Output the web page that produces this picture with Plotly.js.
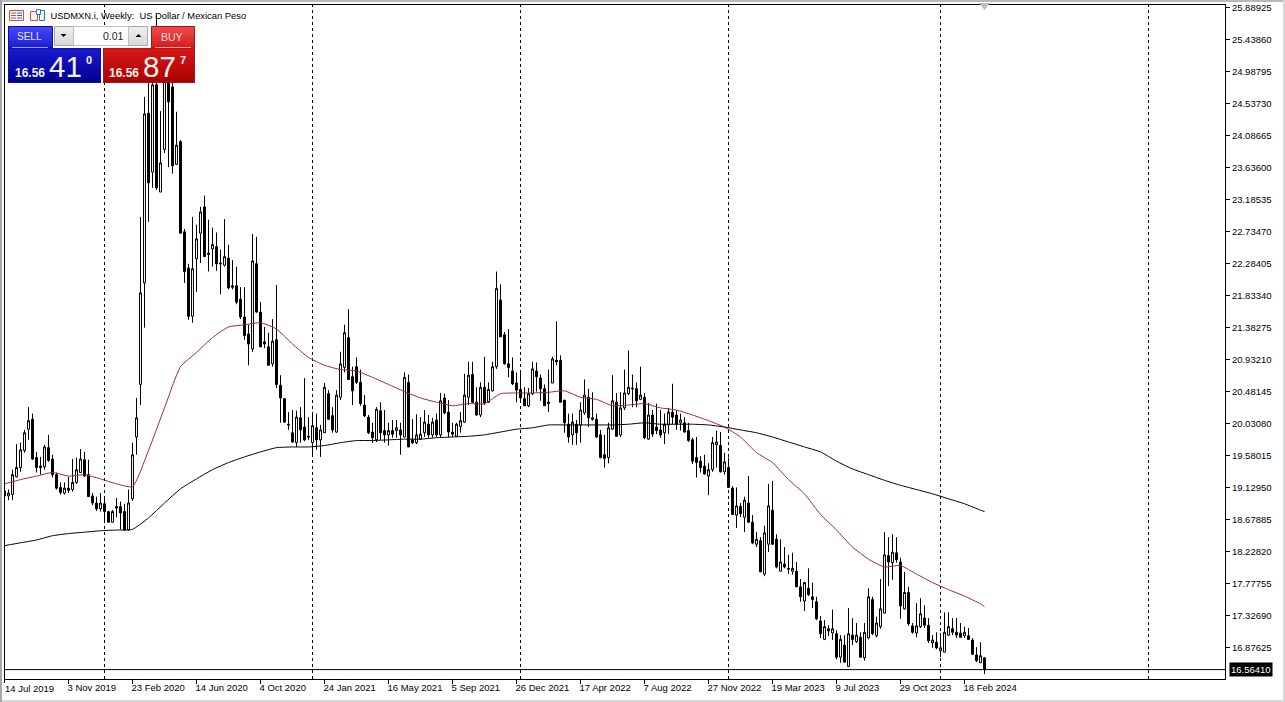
<!DOCTYPE html>
<html><head><meta charset="utf-8">
<script src="https://cdn.plot.ly/plotly-3.0.1.min.js"></script>
<style>html,body{margin:0;padding:0;background:#fff;overflow:hidden}#chart{width:1285px;height:702px}</style>
</head><body><div id="chart"></div>
<script>
const firstWeek = "2019-07-14";
const opens = [19.01,19.01,19.03,19.28,19.41,19.65,19.95,20.09,19.55,19.43,
19.42,19.69,19.53,19.31,19.13,19.05,19.12,19.10,19.20,19.34,
19.52,19.31,19.01,18.91,18.83,18.90,18.79,18.64,18.86,18.86,
18.79,18.53,18.97,19.84,20.58,22.01,24.40,23.57,24.80,23.29,
23.89,25.15,24.77,23.68,24.00,22.73,22.22,21.54,22.35,22.71,
23.08,22.41,22.49,22.52,22.29,22.26,22.36,21.97,21.97,21.78,
21.53,21.29,21.08,22.28,21.60,21.18,21.11,20.87,21.21,20.57,
20.38,20.02,19.90,19.76,20.11,19.98,19.85,19.76,19.97,19.80,
19.90,20.45,20.14,19.91,20.40,20.82,21.24,20.69,20.83,20.61,
20.29,20.12,19.91,19.80,20.21,19.93,19.87,19.93,19.93,19.94,
19.84,20.61,19.80,19.76,19.81,19.90,20.02,19.87,20.08,19.87,
20.39,20.19,19.91,19.85,19.99,20.05,20.40,20.72,20.33,20.15,
20.54,20.33,20.49,20.83,21.77,21.28,20.87,20.77,20.60,20.51,
20.38,20.28,20.45,20.77,20.67,20.52,20.31,20.60,20.92,20.92,
20.36,20.02,19.87,20.02,20.01,20.18,20.40,20.11,20.09,19.87,
19.59,19.55,19.95,20.33,19.87,20.25,20.45,20.53,20.52,20.37,
20.40,19.81,20.15,19.98,19.94,19.90,20.01,20.19,20.15,20.04,
20.04,19.93,19.80,19.55,19.50,19.43,19.29,19.38,19.73,19.72,
19.35,19.41,19.12,18.74,18.86,18.71,18.91,18.64,18.33,18.38,
17.91,18.33,18.81,18.40,17.95,18.05,17.99,17.95,17.95,17.73,
17.53,17.71,17.59,17.52,17.25,16.99,17.14,17.08,17.07,16.74,
16.91,16.61,17.05,16.96,17.02,16.73,17.01,17.55,17.04,17.17,
17.36,18.17,18.07,18.21,18.08,17.42,17.65,17.18,17.08,17.17,
17.29,17.19,16.94,16.95,16.83,16.81,17.05,17.14,17.09,17.08,
17.04,17.04,16.98,16.77,16.66,16.73];
const highs = [19.16,19.10,19.38,19.74,19.76,19.94,20.26,20.17,19.63,19.56,
19.73,19.87,19.59,19.34,19.20,19.20,19.28,19.53,19.55,19.67,
19.63,19.52,19.05,19.00,19.05,19.00,18.80,18.81,18.98,18.93,
18.90,19.10,19.76,20.39,22.94,24.63,25.15,25.15,25.78,24.43,
25.22,25.29,24.94,24.42,24.02,22.77,22.28,22.94,22.83,23.08,
23.24,22.90,22.79,22.72,22.48,22.91,22.55,22.33,22.24,21.95,
21.95,21.42,22.70,22.66,21.74,21.39,21.31,21.50,21.98,20.71,
20.39,20.19,20.22,20.21,20.26,20.67,20.12,20.17,20.17,20.01,
20.60,20.50,20.26,20.50,21.04,21.42,21.64,20.83,20.96,20.79,
20.43,20.15,20.04,20.26,20.33,20.22,20.04,20.08,20.08,20.04,
20.75,20.72,20.09,20.16,20.12,20.22,20.15,20.11,20.17,20.46,
20.45,20.36,20.04,20.04,20.19,20.73,20.90,20.90,20.54,20.61,
20.97,20.61,20.90,22.17,21.99,21.32,21.36,20.96,20.75,20.76,
20.54,20.53,20.90,20.89,20.72,20.58,20.79,20.97,21.47,20.99,
20.36,20.17,20.17,20.08,20.33,20.65,20.52,20.47,20.17,19.94,
19.87,20.04,20.71,20.46,20.47,20.79,21.06,20.72,20.61,20.83,
20.46,20.32,20.22,20.31,20.22,20.17,20.25,20.59,20.22,20.17,
20.12,20.04,19.83,19.84,19.57,19.59,19.47,19.84,19.93,19.91,
19.62,19.55,19.15,19.13,18.91,19.00,19.29,18.74,18.50,18.43,
18.59,19.18,19.22,18.47,18.40,18.29,18.18,18.21,18.08,17.84,
17.80,17.99,17.79,17.59,17.32,17.26,17.19,17.41,17.12,17.05,
17.05,17.43,17.29,17.22,17.09,17.22,17.71,17.59,17.31,17.84,
18.50,18.43,18.47,18.43,18.14,17.94,17.73,17.22,17.50,17.57,
17.47,17.29,17.05,17.09,17.08,17.37,17.37,17.29,17.29,17.22,
17.17,17.15,17.01,16.88,16.95,16.74];
const lows = [19.00,18.95,18.95,19.27,19.35,19.62,19.80,19.52,19.34,19.31,
19.38,19.49,19.27,19.10,19.03,19.03,19.05,19.07,19.18,19.34,
19.28,19.00,18.88,18.80,18.79,18.64,18.64,18.64,18.71,18.54,
18.52,18.52,18.94,19.59,20.29,21.38,22.87,23.35,23.32,23.29,
23.84,23.64,23.55,23.67,22.71,22.01,21.49,21.45,21.88,22.29,
22.38,22.17,22.24,22.18,21.85,22.24,21.92,21.92,21.71,21.50,
21.21,20.85,21.04,21.59,21.11,21.09,20.85,20.83,20.53,20.04,
20.04,19.94,19.76,19.70,19.76,19.78,19.80,19.56,19.66,19.56,
19.90,20.08,19.90,19.90,20.36,20.75,20.65,20.29,20.59,20.28,
20.12,19.88,19.76,19.77,19.80,19.76,19.72,19.83,19.83,19.59,
19.83,19.70,19.74,19.74,19.80,19.84,19.83,19.83,19.84,19.84,
20.16,19.84,19.84,19.84,19.90,20.04,20.29,20.32,20.14,20.12,
20.29,20.32,20.48,20.80,21.25,20.86,20.68,20.57,20.33,20.33,
20.28,20.26,20.43,20.48,20.35,20.28,20.19,20.60,20.85,20.33,
19.90,19.76,19.73,19.73,19.76,20.15,19.98,20.07,19.83,19.54,
19.41,19.47,19.94,19.84,19.84,20.22,20.43,20.26,20.26,20.36,
19.81,19.80,19.84,19.88,19.83,19.74,19.88,20.02,19.94,19.93,
19.90,19.77,19.46,19.27,19.34,19.31,19.02,19.35,19.41,19.34,
19.31,19.13,18.74,18.56,18.71,18.50,18.63,18.33,18.29,17.94,
17.88,18.22,18.32,17.99,17.95,17.99,17.91,17.90,17.73,17.52,
17.39,17.60,17.43,17.26,17.01,16.98,17.04,16.98,16.71,16.66,
16.66,16.60,16.91,16.94,16.73,16.69,16.99,17.05,17.02,17.14,
17.36,17.74,17.83,18.07,17.28,17.41,17.18,17.07,17.02,17.15,
17.15,16.94,16.87,16.85,16.74,16.81,17.04,17.05,17.01,17.02,
17.01,16.99,16.77,16.67,16.66,16.50];
const closes = [19.08,19.05,19.31,19.41,19.66,19.90,20.07,19.53,19.41,19.41,
19.70,19.51,19.31,19.12,19.06,19.12,19.09,19.20,19.38,19.53,
19.29,19.00,18.91,18.83,18.91,18.79,18.64,18.79,18.84,18.77,
18.53,18.91,19.59,20.11,21.87,24.39,23.42,24.80,23.35,23.70,
25.01,24.56,23.66,23.95,22.71,22.17,21.54,22.21,22.63,23.01,
22.38,22.43,22.55,22.28,22.28,22.38,21.94,21.95,21.74,21.53,
21.27,21.15,22.32,21.60,21.11,21.15,20.85,21.19,20.58,20.39,
20.05,20.01,19.77,20.12,19.94,19.80,19.84,20.00,19.80,19.94,
20.54,20.09,19.94,20.43,20.87,21.31,20.65,20.49,20.61,20.31,
20.14,19.90,19.83,20.23,19.90,19.87,19.93,19.88,19.97,19.87,
20.68,19.70,19.76,19.87,19.88,20.05,19.87,20.05,19.87,20.35,
20.18,19.91,19.88,20.02,20.07,20.43,20.71,20.33,20.15,20.54,
20.32,20.51,20.83,21.93,21.25,20.87,20.82,20.59,20.50,20.39,
20.28,20.45,20.80,20.69,20.52,20.28,20.33,20.94,20.90,20.33,
20.04,19.84,20.05,19.90,20.22,20.43,20.11,20.09,19.84,19.55,
19.54,19.97,20.35,19.85,20.25,20.46,20.54,20.52,20.35,20.43,
19.83,20.15,19.88,19.93,19.87,20.02,20.19,20.12,20.02,20.08,
19.91,19.79,19.50,19.48,19.41,19.32,19.38,19.76,19.77,19.35,
19.49,19.13,18.75,18.87,18.76,18.95,18.64,18.35,18.40,17.94,
18.49,18.87,18.33,18.01,18.08,18.01,17.98,17.99,17.73,17.59,
17.79,17.62,17.55,17.28,17.07,17.17,17.11,17.14,16.74,16.99,
16.67,17.07,16.99,17.05,16.74,17.09,17.59,17.07,17.22,17.42,
18.18,18.08,18.22,18.11,17.46,17.65,17.21,17.09,17.18,17.35,
17.19,16.97,16.98,16.87,16.87,17.09,17.17,17.09,17.05,17.02,
17.09,16.99,16.78,16.69,16.76,16.5641];
// moving averages, read every fourth week plus the last week
const ma50 = [19.18,19.24,19.29,19.34,19.29,19.31,19.25,19.18,19.14,19.65,
20.25,20.83,21.03,21.24,21.39,21.42,21.45,21.36,21.15,20.96,
20.85,20.79,20.77,20.68,20.58,20.48,20.39,20.33,20.28,20.31,
20.31,20.45,20.46,20.46,20.47,20.49,20.40,20.37,20.28,20.29,
20.31,20.25,20.22,20.15,20.07,19.98,19.84,19.62,19.48,19.24,
19.04,18.75,18.53,18.29,18.12,18.01,18.03,17.91,17.79,17.69,
17.60,17.49,17.45];
const ma200 = [18.31,18.35,18.39,18.45,18.48,18.50,18.52,18.53,18.54,18.70,
18.91,19.11,19.25,19.38,19.48,19.56,19.63,19.69,19.70,19.70,
19.72,19.76,19.79,19.79,19.80,19.81,19.81,19.83,19.84,19.85,
19.87,19.91,19.95,19.97,20.01,20.01,20.01,20.01,20.01,20.02,
20.04,20.02,20.02,20.02,20.01,19.98,19.94,19.90,19.84,19.77,
19.70,19.63,19.50,19.39,19.31,19.23,19.16,19.10,19.04,18.97,
18.90,18.81,18.79];
const yTicks = ["25.88925","25.43860","24.98795","24.53730","24.08665","23.63600","23.18535",
"22.73470","22.28405","21.83340","21.38275","20.93210","20.48145","20.03080","19.58015",
"19.12950","18.67885","18.22820","17.77755","17.32690","16.87625"];
const xTickDates = ["2019-07-14","2019-11-03","2020-02-23","2020-06-14","2020-10-04","2021-01-24",
"2021-05-16","2021-09-05","2021-12-26","2022-04-17","2022-08-07","2022-11-27","2023-03-19",
"2023-07-09","2023-10-29","2024-02-18"];
const xTickLabels = ["14 Jul 2019","3 Nov 2019","23 Feb 2020","14 Jun 2020","4 Oct 2020","24 Jan 2021",
"16 May 2021","5 Sep 2021","26 Dec 2021","17 Apr 2022","7 Aug 2022","27 Nov 2022","19 Mar 2023",
"9 Jul 2023","29 Oct 2023","18 Feb 2024"];
const separators = ["2020-01-05","2021-01-03","2022-01-02","2023-01-01","2024-01-07","2025-01-05"];
const lastPrice = 16.5641;
const yMin = 16.432, yMax = 25.924;

const DAY = 86400000, t0 = Date.parse(firstWeek);
const stamp = ms => new Date(ms).toISOString().slice(0,19).replace('T',' ');
const weeks = opens.map((_, i) => stamp(t0 + i*7*DAY).slice(0,10));
const maWeeks = ma50.map((_, k) => weeks[Math.min(k*4, weeks.length-1)]);
// plot area in page pixels; 4 px per week, bars on pixel centres
const W=1285,H=702,L=5,T=5,PW=1220,PH=674;
const xStart = t0 + 0.875*DAY, xEnd = xStart + (PW/4)*7*DAY;
const px = x => (x-L)/PW, py = y => 1-(y-T)/PH;
const FONT = '"Liberation Sans", Arial, sans-serif';

const hex = c => [1,3,5].map(i=>parseInt(c.substr(i,2),16));
function grad(x0,y0,x1,y1,c0,c1){
  const a=hex(c0),b=hex(c1),out=[];
  for(let y=y0;y<y1;y++){const t=(y-y0)/Math.max(1,y1-y0-1);
    const c=a.map((v,i)=>Math.round(v+(b[i]-v)*t));
    out.push(box(x0,y,x1,y+1,`rgb(${c})`));}
  return out;
}
function box(x0,y0,x1,y1,fill,line){
  return {type:'rect',xref:'paper',yref:'paper',layer:'above',x0:px(x0),x1:px(x1),y0:py(y1),y1:py(y0),
    fillcolor:fill||'rgba(0,0,0,0)',line:{width:line?1:0,color:line||'rgba(0,0,0,0)'}};
}
function hline(x0,x1,y,color){return {type:'line',xref:'paper',yref:'paper',layer:'above',x0:px(x0),x1:px(x1),y0:py(y),y1:py(y),line:{width:1,color}};}
function tri(points,color){
  const d='M'+points.map(p=>px(p[0])+','+py(p[1])).join('L')+'Z';
  return {type:'path',xref:'paper',yref:'paper',layer:'above',path:d,fillcolor:color,line:{width:0}};
}
function label(text,x,y,size,color,anchor){
  return {text,xref:'paper',yref:'paper',x:px(x),y:py(y),xanchor:anchor||'left',yanchor:'middle',showarrow:false,
    font:{family:FONT,size,color},borderpad:0};
}

const shapes = [];
separators.forEach(d=>shapes.push({type:'line',xref:'x',yref:'paper',layer:'below',x0:d,x1:d,y0:0,y1:1,
  line:{width:1,color:'#000',dash:'3px,3px'}}));
shapes.push({type:'line',xref:'paper',yref:'y',layer:'above',x0:0,x1:1,y0:lastPrice,y1:lastPrice,line:{width:1,color:'#000'}});
// window edge
shapes.push(box(0,0,1285,2,'#b8b8b8'),box(0,700,1285,702,'#d8d8d8'),box(0,0,2,702,'#a8a8a8'),box(1283,0,1285,702,'#d8d8d8'));
// toolbar icons
shapes.push(box(9.5,10.5,23.5,20.5,'#f4f6ff','#c8503c'),
  hline(11,16,13,'#c8503c'),hline(11,16,15.5,'#c8503c'),hline(11,16,18,'#c8503c'),
  hline(17,22,13,'#2860c0'),hline(17,22,15.5,'#2860c0'),hline(17,22,18,'#2860c0'),
  box(30.5,11.5,37.5,20.5,'#fff4f0','#c8503c'),box(39.5,10.5,44.5,20.5,'#eef6ff','#2878b8'),box(36.5,9.5,40.5,14.5,'#ffffff','#2878b8'));
// first axis tick sits just left of the frame
shapes.push({type:'line',xref:'paper',yref:'paper',layer:'above',x0:px(4.5),x1:px(4.5),y0:py(679),y1:py(683),line:{width:1,color:'#000'}});
// trade panel
shapes.push(...grad(8,26,52,48,'#4a4af4','#1c1cd8'),...grad(8,48,101,83,'#1a1ad0','#000090'),
  ...grad(151,26,195,48,'#f04c4c','#d81c1c'),...grad(103,48,195,83,'#d81818','#a80000'),
  box(8.5,26.5,52.5,48,'rgba(0,0,0,0)','#101090'),box(8.5,48,100.5,82.5,'rgba(0,0,0,0)','#101090'),
  box(151.5,26.5,194.5,48,'rgba(0,0,0,0)','#a01818'),box(103.5,48,194.5,82.5,'rgba(0,0,0,0)','#a01818'),
  box(53,26,151,48,'#ffffff'),
  hline(12,48,47.5,'#9aa0ff'),hline(155,191,47.5,'#ffa0a0'),
  ...grad(54,26,73,46,'#eeeeee','#d8d8d8'),...grad(129,26,148,46,'#eeeeee','#d8d8d8'),
  box(54.5,26.5,147.5,45.5,'rgba(0,0,0,0)','#a8a8a8'),
  box(73.5,26.5,128.5,45.5,'#ffffff','#c0c0c0'),
  tri([[60.5,34],[66.5,34],[63.5,37]],'#000'),tri([[135.5,37],[141.5,37],[138.5,34]],'#000'),
  tri([[979,3],[990,3],[984.5,10]],'#bdbdbd'));

const annotations = [
  label(xTickLabels[0],4,688.5,9.5,'#000'),
  label('SELL',29,36.5,10,'#e8e8ff','center'),
  label('BUY',172,36.5,10.5,'#ffdcdc','center'),
  label('0.01',124.5,36,10.5,'#222','right'),
  label('<b>16.56</b>',14,73,12,'#f4f4ff'),
  label('41',47.5,67,29.5,'#f4f4ff'),
  label('<b>0</b>',84.5,60,11,'#f4f4ff'),
  label('<b>16.56</b>',108,73,12,'#fff0f0'),
  label('87',142,67,29.5,'#fff0f0'),
  label('<b>7</b>',179,60,11,'#fff0f0'),
  {text:lastPrice.toFixed(5),xref:'paper',yref:'y',x:px(1229),y:lastPrice,xanchor:'left',yanchor:'middle',showarrow:false,
   bgcolor:'#000',borderpad:1,font:{family:FONT,size:9.5,color:'#fff'}}
];

const traces = [
  {type:'candlestick',x:weeks,open:opens,high:highs,low:lows,close:closes,whiskerwidth:0,
   increasing:{line:{color:'#000',width:1},fillcolor:'#fff'},
   decreasing:{line:{color:'#000',width:1},fillcolor:'#000'},hoverinfo:'skip'},
  {type:'scatter',mode:'lines',x:maWeeks,y:ma50,line:{color:'#a52a2a',width:1,shape:'spline',smoothing:0.5},hoverinfo:'skip'},
  {type:'scatter',mode:'lines',x:maWeeks,y:ma200,line:{color:'#000',width:1,shape:'spline',smoothing:0.5},hoverinfo:'skip'}
];

const layout = {
  width:W,height:H,margin:{l:L,r:W-L-PW,t:T,b:H-T-PH,pad:0},
  paper_bgcolor:'#fff',plot_bgcolor:'#fff',showlegend:false,dragmode:false,
  font:{family:FONT,size:9.5,color:'#000'},
  title:{text:'USDMXN.i, Weekly:  US Dollar / Mexican Peso',x:50.5/W,xanchor:'left',y:1-15.5/H,yanchor:'middle',
    font:{family:FONT,size:9.4,color:'#000'}},
  xaxis:{type:'date',range:[stamp(xStart),stamp(xEnd)],
    rangeslider:{visible:false},showgrid:false,zeroline:false,
    showline:true,mirror:true,linecolor:'#000',linewidth:1,
    ticks:'outside',ticklen:4,tickcolor:'#000',tickwidth:1,tickmode:'array',tickvals:xTickDates,ticktext:xTickLabels,
    ticklabelposition:'outside right',ticklabelshift:-2,tickangle:0,tickfont:{family:FONT,size:9.5,color:'#000'}},
  yaxis:{side:'right',range:[yMin,yMax],showgrid:false,zeroline:false,
    showline:true,mirror:true,linecolor:'#000',linewidth:1,
    ticks:'outside',ticklen:4,tickcolor:'#000',tickwidth:1,tickmode:'array',tickvals:yTicks.map(Number),ticktext:yTicks,
    tickfont:{family:FONT,size:9.5,color:'#000'}},
  shapes,annotations
};
Plotly.newPlot('chart',traces,layout,{displayModeBar:false,staticPlot:true});
</script></body></html>
